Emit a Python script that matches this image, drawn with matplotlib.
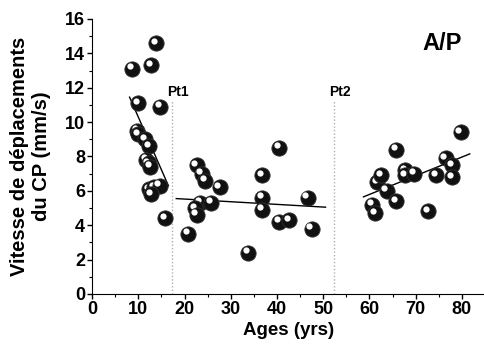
import matplotlib.pyplot as plt
from matplotlib.transforms import offset_copy
from matplotlib.ticker import MultipleLocator

plt.rcParams['font.family'] = ['Liberation Sans', 'DejaVu Sans']

# values
g1_x = [8.6, 12.7, 13.8, 10.0, 14.7, 9.7, 10.0, 11.5, 12.4, 11.7, 12.2, 12.6, 12.4, 13.4, 14.6, 12.8, 15.8]
g1_y = [13.1, 13.3, 14.6, 11.1, 10.9, 9.5, 9.3, 9.0, 8.6, 7.8, 7.6, 7.4, 6.1, 6.2, 6.3, 5.8, 4.4]

g2_x = [22.6, 23.7, 24.4, 27.6, 23.4, 25.7, 22.3, 22.6, 20.8, 40.5, 36.7, 46.6, 36.7, 36.7, 40.4, 42.6, 47.5, 33.7]
g2_y = [7.5, 7.0, 6.6, 6.2, 5.3, 5.3, 5.0, 4.6, 3.5, 8.5, 6.9, 5.6, 5.6, 4.9, 4.2, 4.3, 3.8, 2.4]

g3_x = [60.5, 61.2, 61.6, 62.6, 63.7, 65.7, 65.7, 67.7, 67.7, 69.6, 72.7, 74.5, 76.5, 77.8, 77.8, 79.7]
g3_y = [5.2, 4.7, 6.5, 6.9, 6.0, 5.4, 8.4, 7.2, 6.9, 7.0, 4.8, 6.9, 7.9, 7.5, 6.8, 9.4]

# trend lines (end points)
fit1_x, fit1_y = [8.1, 16.5], [11.45, 6.3]
fit2_x, fit2_y = [18.2, 50.5], [5.55, 5.05]
fit3_x, fit3_y = [58.7, 81.7], [5.65, 8.15]

pt_x = [17.3, 52.3]
pt_labels = ['Pt1', 'Pt2']

fig = plt.figure(figsize=(4.85, 3.54), dpi=100)
ax = fig.add_axes([0.19, 0.1695, 0.81, 0.777])

# breakpoint lines
for x, lab in zip(pt_x, pt_labels):
    ax.plot([x, x], [0, 11.3], color='#b0b0b0', lw=1, ls=(0, (1, 1.5)), zorder=1)
    ax.text(x + 1.3, 11.75, lab, fontsize=10, fontweight='bold', ha='center', va='center')

# trend lines
for fx, fy in [(fit1_x, fit1_y), (fit2_x, fit2_y), (fit3_x, fit3_y)]:
    ax.plot(fx, fy, color='black', lw=1, zorder=2)

# shaded balls
hl = offset_copy(ax.transData, fig=fig, x=-1.6, y=1.8, units='points')
for gx, gy in [(g1_x, g1_y), (g2_x, g2_y), (g3_x, g3_y)]:
    for x, y in zip(gx, gy):
        ax.plot(x, y, 'o', ms=11, color='#111111', mec='#333333', mew=0.6, zorder=3)
        ax.plot(x, y, 'o', ms=4.5, color='white', mec='none', transform=hl, zorder=3)

ax.text(75.7, 14.6, 'A/P', fontsize=17, fontweight='bold', ha='center', va='center')

ax.set_xlim(0, 85)
ax.set_ylim(0, 16)
ax.xaxis.set_major_locator(MultipleLocator(10))
ax.xaxis.set_minor_locator(MultipleLocator(5))
ax.yaxis.set_major_locator(MultipleLocator(2))
ax.yaxis.set_minor_locator(MultipleLocator(1))
ax.set_xticks(range(0, 81, 10))
ax.spines['top'].set_visible(False)
ax.spines['right'].set_visible(False)
ax.tick_params(which='major', length=3.5, width=1, labelsize=13, pad=1.5)
ax.tick_params(which='minor', length=2, width=0.8)
for lab in ax.get_xticklabels() + ax.get_yticklabels():
    lab.set_fontweight('bold')

ax.set_xlabel('Ages (yrs)', fontsize=13.5, fontweight='bold', labelpad=3)
ax.set_ylabel('Vitesse de déplacements\ndu CP (mm/s)', fontsize=14.5, fontweight='bold',
              labelpad=10, linespacing=1.2)

plt.savefig('out.png', dpi=100)
plt.close()
